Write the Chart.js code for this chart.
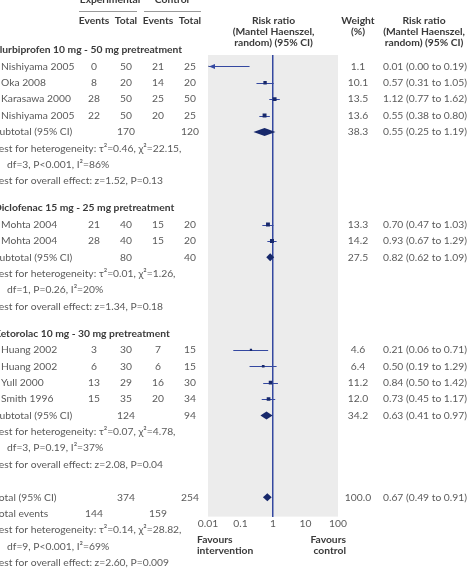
<!DOCTYPE html>
<html>
<head>
<meta charset="utf-8">
<script src="https://cdn.jsdelivr.net/npm/chart.js@4.4.0/dist/chart.umd.min.js"></script>
<style>
  html, body { margin: 0; padding: 0; background: #fff; }
</style>
</head>
<body>
<canvas id="forest" width="469" height="576"></canvas>
<script>
// Subgroups
const groupNames = [
  "Flurbiprofen 10 mg - 50 mg pretreatment",
  "Diclofenac 15 mg - 25 mg pretreatment",
  "Ketorolac 10 mg - 30 mg pretreatment"
];

// Individual studies
const studyGroup  = [0, 0, 0, 0, 1, 1, 2, 2, 2, 2];
const studyNames  = ["Nishiyama 2005", "Oka 2008", "Karasawa 2000", "Nishiyama 2005",
                     "Mohta 2004", "Mohta 2004",
                     "Huang 2002", "Huang 2002", "Yull 2000", "Smith 1996"];
const expEvents   = [0, 8, 28, 22, 21, 28, 3, 6, 13, 15];
const expTotals   = [50, 20, 50, 50, 40, 40, 30, 30, 29, 35];
const ctlEvents   = [21, 14, 25, 20, 15, 15, 7, 6, 16, 20];
const ctlTotals   = [25, 20, 50, 25, 20, 20, 15, 15, 30, 34];
const studyWeight = [1.1, 10.1, 13.5, 13.6, 13.3, 14.2, 4.6, 6.4, 11.2, 12.0];
const studyRR     = [0.01, 0.57, 1.12, 0.55, 0.70, 0.93, 0.21, 0.50, 0.84, 0.73];
const studyLo     = [0.0005, 0.31, 0.77, 0.38, 0.47, 0.67, 0.06, 0.19, 0.50, 0.45];
const studyHi     = [0.19, 1.05, 1.62, 0.80, 1.03, 1.29, 0.71, 1.29, 1.42, 1.17];

// Subtotals
const subExpTotals = [170, 80, 124];
const subCtlTotals = [120, 40, 94];
const subWeight    = [38.3, 27.5, 34.2];
const subRR        = [0.55, 0.82, 0.63];
const subLo        = [0.25, 0.62, 0.41];
const subHi        = [1.19, 1.09, 0.97];
const subHet = [
  ["Test for heterogeneity: τ²=0.46, χ²=22.15,", "df=3, P<0.001, I²=86%"],
  ["Test for heterogeneity: τ²=0.01, χ²=1.26,", "df=1, P=0.26, I²=20%"],
  ["Test for heterogeneity: τ²=0.07, χ²=4.78,", "df=3, P=0.19, I²=37%"]
];
const subOverall = [
  "Test for overall effect: z=1.52, P=0.13",
  "Test for overall effect: z=1.34, P=0.18",
  "Test for overall effect: z=2.08, P=0.04"
];

// Overall total
const totalExp = 374, totalCtl = 254;
const totalExpEvents = 144, totalCtlEvents = 159;
const totalWeight = 100.0, totalRR = 0.67, totalLo = 0.49, totalHi = 0.91;
const totalHet = ["Test for heterogeneity: τ²=0.14, χ²=28.82,", "df=9, P<0.001, I²=69%"];
const totalOverall = "Test for overall effect: z=2.60, P=0.009";

// Axis
const tickValues = [0.01, 0.1, 1, 10, 100];
const tickLabels = ["0.01", "0.1", "1", "10", "100"];

// styling
const FONT = "Lato, 'Open Sans', sans-serif";
const FSIZE = 10.3;
const TXT = "#5a5a5a";
const DARK = "#3a3a3a";
const NAVY = "#17286b";
const BLUE = "#3448a0";
const PANEL = "#ececec";

// row positions (in row units) following the table structure
const rows = { group: [], study: [], sub: [], het: [], overall: [] };
let u = 0;
groupNames.forEach((g, gi) => {
  rows.group.push(u); u += 1;
  studyGroup.forEach((sg, si) => { if (sg === gi) { rows.study[si] = u; u += 1; } });
  rows.sub.push(u); u += 1;
  rows.het.push(u); u += 2;
  rows.overall.push(u);
  u += gi < groupNames.length - 1 ? 1.65 : 2;
});
const totalRow = u;

const ci = (rr, lo, hi) => `${rr.toFixed(2)} (${lo.toFixed(2)} to ${hi.toFixed(2)})`;

function text(ctx, s, x, y, align, bold, color) {
  ctx.font = (bold ? "bold " : "") + FSIZE + "px " + FONT;
  ctx.fillStyle = color || (bold ? DARK : TXT);
  ctx.textAlign = align;
  ctx.textBaseline = "middle";
  ctx.fillText(s, x, y);
}

const forestPlugin = {
  id: "forest",
  beforeDraw(chart) {
    const { ctx, chartArea: a } = chart;
    ctx.save();
    ctx.fillStyle = PANEL;
    ctx.fillRect(a.left, a.top, a.right - a.left, a.bottom - a.top);
    ctx.restore();
  },
  beforeDatasetsDraw(chart) {
    const { ctx, chartArea: a, scales: { x, y } } = chart;
    ctx.save();
    // confidence intervals
    ctx.strokeStyle = BLUE;
    ctx.lineWidth = 1;
    studyRR.forEach((rr, i) => {
      const py = Math.round(y.getPixelForValue(rows.study[i])) + 0.5;
      const x0 = Math.max(x.getPixelForValue(studyLo[i]), a.left + 1);
      const x1 = Math.min(x.getPixelForValue(studyHi[i]), a.right - 1);
      ctx.beginPath(); ctx.moveTo(x0, py); ctx.lineTo(x1, py); ctx.stroke();
      if (studyLo[i] < x.min) {
        ctx.fillStyle = BLUE;
        ctx.beginPath();
        ctx.moveTo(a.left + 1, py);
        ctx.lineTo(a.left + 7, py - 2.5);
        ctx.lineTo(a.left + 7, py + 2.5);
        ctx.closePath(); ctx.fill();
      }
    });
    // diamonds
    const diamond = (rr, lo, hi, row) => {
      const py = y.getPixelForValue(row);
      ctx.fillStyle = NAVY;
      ctx.beginPath();
      ctx.moveTo(x.getPixelForValue(lo), py);
      ctx.lineTo(x.getPixelForValue(rr), py - 4);
      ctx.lineTo(x.getPixelForValue(hi), py);
      ctx.lineTo(x.getPixelForValue(rr), py + 4);
      ctx.closePath(); ctx.fill();
    };
    subRR.forEach((rr, i) => diamond(rr, subLo[i], subHi[i], rows.sub[i]));
    diamond(totalRR, totalLo, totalHi, totalRow);
    ctx.restore();
  },
  afterDraw(chart) {
    const { ctx, chartArea: a, scales: { y } } = chart;
    const Y = v => y.getPixelForValue(v);
    const baseX = -6, studyX = 1, contX = 7;
    const cE = 94, cT = 126, kE = 158, kT = 190, wX = 358, rX = 383;
    const plotC = (a.left + a.right) / 2 + 0.5;
    ctx.save();

    // column headers
    text(ctx, "Experimental", 110, a.top - 55, "center", true);
    text(ctx, "Control", 172, a.top - 55, "center", true);
    ctx.strokeStyle = "#9a9a9a"; ctx.lineWidth = 1;
    ctx.beginPath();
    ctx.moveTo(79, a.top - 43.5); ctx.lineTo(137, a.top - 43.5);
    ctx.moveTo(144, a.top - 43.5); ctx.lineTo(201, a.top - 43.5);
    ctx.stroke();
    [[cE, "Events"], [cT, "Total"], [kE, "Events"], [kT, "Total"]]
      .forEach(([cx, s]) => text(ctx, s, cx, a.top - 34.5, "center", true));
    ["Risk ratio", "(Mantel Haenszel,", "random) (95% CI)"].forEach((s, i) => {
      text(ctx, s, plotC, a.top - 34.5 + i * 11, "center", true);
      text(ctx, s, 424, a.top - 34.5 + i * 11, "center", true);
    });
    text(ctx, "Weight", wX, a.top - 34.5, "center", true);
    text(ctx, "(%)", wX, a.top - 23.5, "center", true);

    // groups
    groupNames.forEach((g, gi) => {
      text(ctx, g, baseX, Y(rows.group[gi]), "left", true);
      studyGroup.forEach((sg, si) => {
        if (sg !== gi) return;
        const py = Y(rows.study[si]);
        text(ctx, studyNames[si], studyX, py, "left");
        text(ctx, String(expEvents[si]), cE, py, "center");
        text(ctx, String(expTotals[si]), cT, py, "center");
        text(ctx, String(ctlEvents[si]), kE, py, "center");
        text(ctx, String(ctlTotals[si]), kT, py, "center");
        text(ctx, studyWeight[si].toFixed(1), wX, py, "center");
        text(ctx, ci(studyRR[si], studyLo[si], studyHi[si]), rX, py, "left");
      });
      const sy = Y(rows.sub[gi]);
      text(ctx, "Subtotal (95% CI)", baseX, sy, "left");
      text(ctx, String(subExpTotals[gi]), cT, sy, "center");
      text(ctx, String(subCtlTotals[gi]), kT, sy, "center");
      text(ctx, subWeight[gi].toFixed(1), wX, sy, "center");
      text(ctx, ci(subRR[gi], subLo[gi], subHi[gi]), rX, sy, "left");
      text(ctx, subHet[gi][0], baseX, Y(rows.het[gi]), "left");
      text(ctx, subHet[gi][1], contX, Y(rows.het[gi] + 1), "left");
      text(ctx, subOverall[gi], baseX, Y(rows.overall[gi]), "left");
    });

    // totals
    const ty = Y(totalRow);
    text(ctx, "Total (95% CI)", baseX, ty, "left");
    text(ctx, String(totalExp), cT, ty, "center");
    text(ctx, String(totalCtl), kT, ty, "center");
    text(ctx, totalWeight.toFixed(1), wX, ty, "center");
    text(ctx, ci(totalRR, totalLo, totalHi), rX, ty, "left");
    text(ctx, "Total events", baseX, Y(totalRow + 1), "left");
    text(ctx, String(totalExpEvents), cE, Y(totalRow + 1), "center");
    text(ctx, String(totalCtlEvents), kE, Y(totalRow + 1), "center");
    text(ctx, totalHet[0], baseX, Y(totalRow + 2), "left");
    text(ctx, totalHet[1], contX, Y(totalRow + 3), "left");
    text(ctx, totalOverall, baseX, Y(totalRow + 4), "left");

    // favours labels
    text(ctx, "Favours", 197, a.bottom + 23.5, "left", true);
    text(ctx, "intervention", 197, a.bottom + 34, "left", true);
    text(ctx, "Favours", 346, a.bottom + 23.5, "right", true);
    text(ctx, "control", 346, a.bottom + 34, "right", true);
    ctx.restore();
  }
};

new Chart(document.getElementById("forest"), {
  type: "scatter",
  data: {
    datasets: [{
      data: studyRR.map((rr, i) => ({ x: rr, y: rows.study[i] })),
      pointStyle: "rect",
      pointRadius: studyWeight.map(w => 0.75 * Math.sqrt(w)),
      pointHoverRadius: studyWeight.map(w => 0.75 * Math.sqrt(w)),
      backgroundColor: NAVY,
      borderWidth: 0
    }]
  },
  options: {
    responsive: false,
    animation: false,
    events: [],
    layout: { padding: { left: 208, right: 131, top: 55, bottom: 45 } },
    plugins: { legend: { display: false }, tooltip: { enabled: false } },
    scales: {
      x: {
        type: "logarithmic",
        min: 0.01,
        max: 100,
        afterBuildTicks: s => { s.ticks = tickValues.map(v => ({ value: v })); },
        border: { display: false },
        grid: {
          drawTicks: false,
          lineWidth: 1.5,
          color: c => (c.tick && c.tick.value === 1 ? BLUE : "rgba(0,0,0,0)")
        },
        ticks: {
          autoSkip: false,
          maxRotation: 0,
          padding: 1,
          color: TXT,
          font: { family: FONT, size: FSIZE },
          callback: v => tickLabels[tickValues.indexOf(v)]
        }
      },
      y: {
        type: "linear",
        display: false,
        reverse: true,
        min: 0.305,
        max: 28.48
      }
    }
  },
  plugins: [forestPlugin]
});
</script>
</body>
</html>
